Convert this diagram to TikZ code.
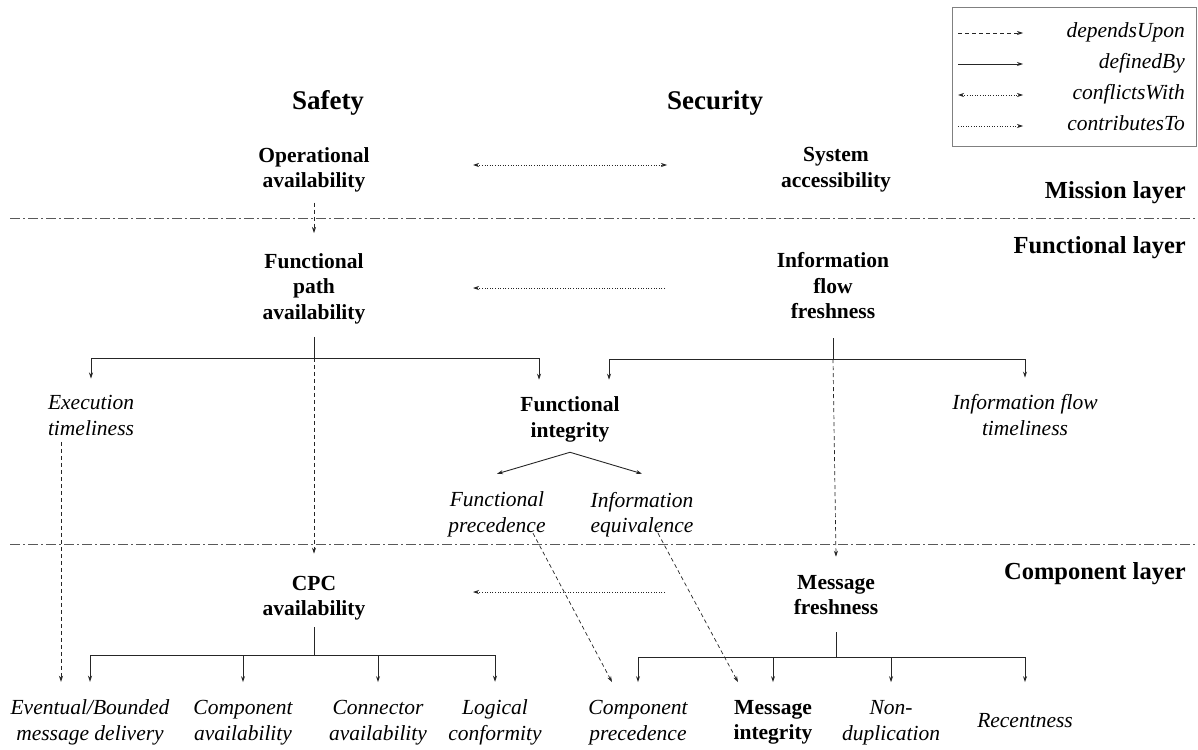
\documentclass[tikz,border=0pt]{standalone}
\usepackage{fontspec}
\setmainfont{Liberation Serif}
\usetikzlibrary{arrows.meta}
\newcommand{\labfont}{\fontsize{21.5}{25.5}\selectfont}

\begin{document}
\begin{tikzpicture}[x=1pt,y=-1pt,>={Stealth[length=6pt,width=4pt]},
  prop/.style={font=\labfont\bfseries,align=center,inner sep=0pt},
  sub/.style={font=\labfont\itshape,align=center,inner sep=0pt},
  head/.style={font=\fontsize{27}{30}\selectfont\bfseries,anchor=base,inner sep=0pt},
  layer/.style={font=\fontsize{24.5}{28}\selectfont\bfseries,anchor=base east,inner sep=0pt},
  def/.style={->,black!85,line width=0.9pt},
  dep/.style={->,black!85,line width=0.7pt,dash pattern=on 4pt off 3pt},
  conf/.style={<->,black!85,line width=0.7pt,dash pattern=on 1pt off 1.6pt},
  contr/.style={->,black!85,line width=0.7pt,dash pattern=on 1pt off 1.6pt},
  layerline/.style={black!65,line width=0.9pt,dash pattern=on 10pt off 3pt on 2pt off 3pt}]
\useasboundingbox (0,0) rectangle (1198,749);

% legend
\draw[gray] (952,7) rectangle (1196,146);
\foreach \st/\nm [count=\i] in {dep/dependsUpon,def/definedBy,conf/conflictsWith,contr/contributesTo}{
  \node[sub,anchor=base east] (leg\i) at (1185,7+31*\i) {\nm};
  \draw[\st] (958,2+31*\i) -- (1023,2+31*\i);
}

% headings and layers
\node[head] (safety) at (328,110) {Safety};
\node[head] (security) at (715,110) {Security};
\draw[layerline] (10,218) -- (1198,218);
\draw[layerline] (10,544) -- (1198,544);
\node[layer] (mission) at (1186,198) {Mission layer};
\node[layer] (functional) at (1186,253) {Functional layer};
\node[layer] (component) at (1186,579) {Component layer};

% properties
\node[prop] (opav) at (314,170) {Operational\\availability};
\node[prop] (sysacc) at (836,169.8) {System\\accessibility};
\node[prop] (fpa) at (314,288.5) {Functional\\path\\availability};
\node[prop] (iff) at (833,285.7) {Information\\flow\\freshness};
\node[sub] (exec) at (91,415.7) {Execution\\timeliness};
\node[prop] (fint) at (570,419.5) {Functional\\integrity};
\node[sub] (ift) at (1025,415.2) {Information flow\\timeliness};
\node[sub] (fprec) at (497,514.5) {Functional\\precedence};
\node[sub] (ieq) at (642,514.5) {Information\\equivalence};
\node[prop] (cpc) at (314,598) {CPC\\availability};
\node[prop] (mfr) at (836,595.3) {Message\\freshness};
\node[sub] (evt) at (90,722.5) {Eventual/Bounded\\message delivery};
\node[sub] (cav) at (243,722.5) {Component\\availability};
\node[sub] (conav) at (378,722.5) {Connector\\availability};
\node[sub] (logc) at (495,722.5) {Logical\\conformity};
\node[sub] (cprec) at (638,722.5) {Component\\precedence};
\node[prop] (mint) at (773,722.5) {Message\\integrity};
\node[sub] (nondup) at (891,722.5) {Non-\\duplication};
\node[sub] (recent) at (1025,720.5) {Recentness};

% mission layer
\draw[conf] ([shift={(159,-5)}]opav.center) -- ([shift={(-169,-4.8)}]sysacc.center);
\draw[dep] ([yshift=-10pt]opav.south) -- ([yshift=20pt]fpa.north);

% functional layer
\draw[contr] ([shift={(-168,2.3)}]iff.center) -- ([shift={(159,-0.5)}]fpa.center);
\draw[def,-] ([yshift=-13pt]fpa.south) -- ++(0,21) coordinate (fpabar);
\draw[def] (fpabar) -| ([yshift=17pt]exec.north);
\draw[def] (fpabar) -| ([shift={(-31,-17)}]fint.north);
\draw[dep] (fpabar) -- ([yshift=22pt]cpc.north);
\draw[def,-] ([yshift=-19pt]iff.south) -- ++(0,21) coordinate (iffbar);
\draw[def] (iffbar) -| ([shift={(39,-17)}]fint.north);
\draw[def] (iffbar) -| ([yshift=17pt]ift.north);
\draw[dep] (iffbar) -- ([yshift=18.5pt]mfr.north);
\draw[def] ([yshift=-10pt]fint.south) -- ([yshift=18pt]fprec.north);
\draw[def] ([yshift=-10pt]fint.south) -- ([yshift=18pt]ieq.north);
\draw[dep] ([shift={(-30,6)}]exec.south) -- ([shift={(-29,-18)}]evt.north);
\draw[dep] ([shift={(36,-4)}]fprec.south) -- ([shift={(-26,-18)}]cprec.north);
\draw[dep] ([shift={(16,-4)}]ieq.south) -- ([shift={(-35,-18)}]mint.north);

% component layer
\draw[contr] ([shift={(-171,-3.3)}]mfr.center) -- ([shift={(159,-6)}]cpc.center);
\draw[def,-] ([yshift=-7pt]cpc.south) -- ++(0,28) coordinate (cpcbar);
\foreach \c in {evt,cav,conav,logc} \draw[def] (cpcbar) -| ([yshift=18pt]\c.north);
\draw[def,-] ([yshift=-17pt]mfr.south) -- ++(0,25) coordinate (mfrbar);
\foreach \c in {cprec,mint,nondup} \draw[def] (mfrbar) -| ([yshift=18pt]\c.north);
\draw[def] (mfrbar) -| ([yshift=31pt]recent.north);
\end{tikzpicture}
\end{document}
